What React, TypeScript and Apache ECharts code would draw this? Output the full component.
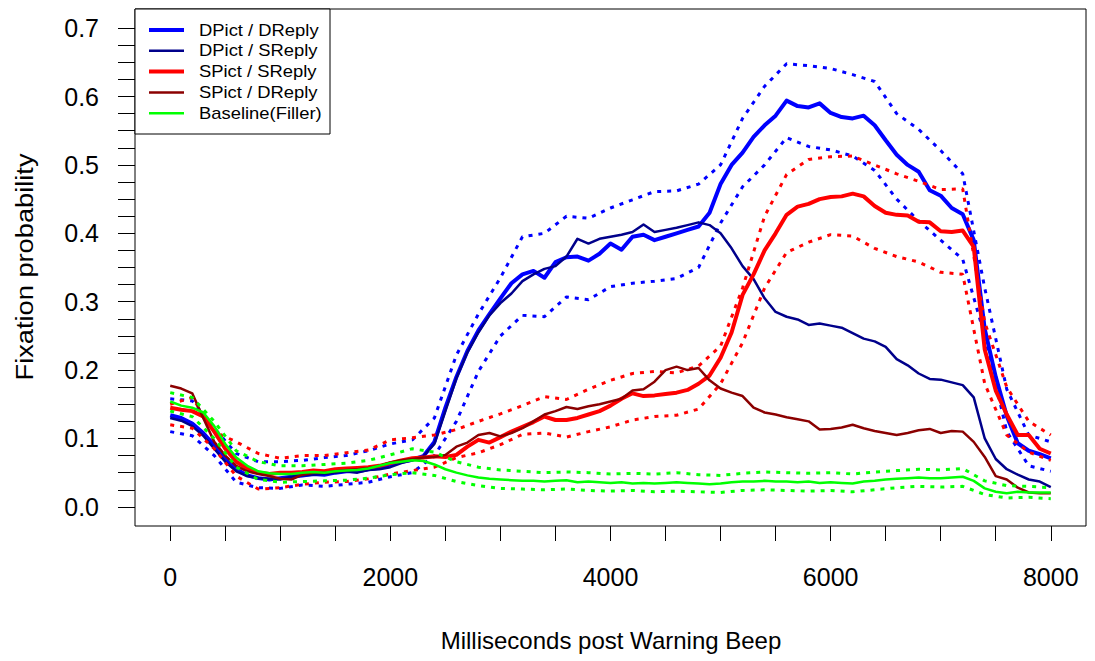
import React, { useEffect, useRef } from "react";
import * as echarts from "echarts";

const FONT = '"Liberation Sans", Arial, Helvetica, sans-serif';

// time stamps (ms)
const tMain = Array.from({ length: 81 }, (_, i) => i * 100);
const tCI = Array.from({ length: 41 }, (_, i) => i * 200);

const seriesNames = ["DPict / DReply", "DPict / SReply", "SPict / SReply", "SPict / DReply", "Baseline(Filler)"];
const xTickValues = [0, 500, 1000, 1500, 2000, 2500, 3000, 3500, 4000, 4500, 5000, 5500, 6000, 6500, 7000, 7500, 8000];
const xLabelValues = [0, 2000, 4000, 6000, 8000];
const yTickValues = [0, 0.025, 0.05, 0.075, 0.1, 0.125, 0.15, 0.175, 0.2, 0.225, 0.25, 0.275, 0.3, 0.325, 0.35, 0.375, 0.4, 0.425, 0.45, 0.475, 0.5, 0.525, 0.55, 0.575, 0.6, 0.625, 0.65, 0.675, 0.7];
const yLabelValues = [0, 0.1, 0.2, 0.3, 0.4, 0.5, 0.6, 0.7];

// main lines, every 100 ms
const dPictDReply = [
  0.134, 0.130, 0.122, 0.108, 0.090, 0.070, 0.055, 0.046, 0.042, 0.040,
  0.042, 0.044, 0.046, 0.048, 0.047, 0.050, 0.052, 0.052, 0.055, 0.057,
  0.062, 0.066, 0.069, 0.074, 0.095, 0.145, 0.190, 0.228, 0.258, 0.282,
  0.305, 0.327, 0.340, 0.345, 0.335, 0.358, 0.365, 0.366, 0.360, 0.370,
  0.385, 0.376, 0.395, 0.398, 0.390, 0.395, 0.400, 0.405, 0.410, 0.430,
  0.472, 0.500, 0.518, 0.541, 0.558, 0.572, 0.594, 0.586, 0.584, 0.590,
  0.576, 0.570, 0.568, 0.572, 0.558, 0.536, 0.515, 0.500, 0.490, 0.463,
  0.455, 0.437, 0.428, 0.390, 0.260, 0.190, 0.133, 0.093, 0.082, 0.077,
  0.071,
];
const dPictSReply = [
  0.130, 0.126, 0.118, 0.104, 0.085, 0.066, 0.052, 0.045, 0.042, 0.041,
  0.040, 0.044, 0.046, 0.047, 0.048, 0.050, 0.052, 0.050, 0.054, 0.055,
  0.058, 0.064, 0.068, 0.074, 0.092, 0.140, 0.188, 0.226, 0.255, 0.280,
  0.298, 0.312, 0.330, 0.340, 0.348, 0.352, 0.366, 0.392, 0.385, 0.392,
  0.395, 0.398, 0.402, 0.413, 0.402, 0.405, 0.408, 0.412, 0.416, 0.412,
  0.400, 0.378, 0.352, 0.333, 0.305, 0.285, 0.278, 0.274, 0.266, 0.268,
  0.265, 0.262, 0.254, 0.246, 0.242, 0.234, 0.216, 0.207, 0.195, 0.187,
  0.186, 0.182, 0.178, 0.160, 0.100, 0.070, 0.055, 0.047, 0.040, 0.037,
  0.029,
];
const sPictSReply = [
  0.145, 0.142, 0.140, 0.132, 0.110, 0.085, 0.066, 0.056, 0.050, 0.048,
  0.050, 0.050, 0.051, 0.053, 0.052, 0.055, 0.056, 0.057, 0.058, 0.060,
  0.064, 0.068, 0.071, 0.072, 0.074, 0.073, 0.076, 0.088, 0.098, 0.094,
  0.102, 0.110, 0.117, 0.124, 0.132, 0.127, 0.127, 0.130, 0.135, 0.140,
  0.148, 0.158, 0.166, 0.162, 0.163, 0.165, 0.167, 0.171, 0.180, 0.192,
  0.218, 0.255, 0.310, 0.340, 0.375, 0.400, 0.427, 0.439, 0.443, 0.450,
  0.453, 0.454, 0.458, 0.454, 0.440, 0.430, 0.427, 0.426, 0.417, 0.416,
  0.403, 0.402, 0.404, 0.380, 0.230, 0.170, 0.135, 0.105, 0.105, 0.085,
  0.078,
];
const sPictDReply = [
  0.177, 0.173, 0.166, 0.130, 0.095, 0.075, 0.060, 0.052, 0.048, 0.045,
  0.041, 0.040, 0.047, 0.050, 0.050, 0.052, 0.054, 0.055, 0.057, 0.060,
  0.065, 0.068, 0.070, 0.072, 0.073, 0.076, 0.088, 0.094, 0.105, 0.108,
  0.103, 0.108, 0.115, 0.125, 0.135, 0.140, 0.146, 0.143, 0.147, 0.150,
  0.154, 0.158, 0.170, 0.172, 0.183, 0.200, 0.205, 0.200, 0.203, 0.185,
  0.173, 0.167, 0.162, 0.145, 0.138, 0.135, 0.131, 0.128, 0.125, 0.113,
  0.114, 0.116, 0.120, 0.115, 0.111, 0.108, 0.105, 0.108, 0.112, 0.114,
  0.108, 0.111, 0.110, 0.095, 0.073, 0.045, 0.040, 0.028, 0.021, 0.020,
  0.020,
];
const baseline = [
  0.154, 0.148, 0.145, 0.138, 0.118, 0.092, 0.072, 0.060, 0.052, 0.049,
  0.048, 0.048, 0.050, 0.051, 0.050, 0.052, 0.053, 0.054, 0.056, 0.060,
  0.064, 0.066, 0.068, 0.067, 0.062, 0.055, 0.050, 0.046, 0.043, 0.041,
  0.040, 0.039, 0.038, 0.038, 0.037, 0.038, 0.039, 0.036, 0.037, 0.036,
  0.035, 0.036, 0.034, 0.035, 0.034, 0.035, 0.036, 0.035, 0.034, 0.033,
  0.034, 0.036, 0.037, 0.037, 0.038, 0.037, 0.037, 0.036, 0.037, 0.035,
  0.036, 0.035, 0.034, 0.037, 0.038, 0.040, 0.041, 0.042, 0.043, 0.042,
  0.042, 0.043, 0.044, 0.038, 0.027, 0.022, 0.020, 0.022, 0.021, 0.021,
  0.021,
];

// confidence bands, every 200 ms
const dPictDReplyUpper = [
  0.158, 0.155, 0.115, 0.078, 0.066, 0.066, 0.068, 0.072, 0.075, 0.082,
  0.092, 0.098, 0.130, 0.222, 0.282, 0.335, 0.395, 0.400, 0.425, 0.422,
  0.437, 0.449, 0.461, 0.462, 0.472, 0.500, 0.568, 0.615, 0.648, 0.645,
  0.641, 0.632, 0.622, 0.575, 0.552, 0.521, 0.487, 0.320, 0.172, 0.105,
  0.095,
];
const dPictDReplyLower = [
  0.110, 0.104, 0.075, 0.036, 0.028, 0.027, 0.032, 0.030, 0.033, 0.036,
  0.044, 0.050, 0.075, 0.125, 0.198, 0.250, 0.280, 0.278, 0.307, 0.303,
  0.322, 0.327, 0.330, 0.334, 0.350, 0.415, 0.468, 0.500, 0.540, 0.527,
  0.522, 0.513, 0.492, 0.450, 0.418, 0.390, 0.362, 0.250, 0.110, 0.060,
  0.052,
];
const sPictSReplyUpper = [
  0.150, 0.160, 0.110, 0.095, 0.078, 0.071, 0.075, 0.075, 0.079, 0.083,
  0.098, 0.101, 0.105, 0.113, 0.125, 0.136, 0.148, 0.161, 0.157, 0.172,
  0.185, 0.195, 0.198, 0.196, 0.206, 0.235, 0.320, 0.425, 0.486, 0.508,
  0.512, 0.513, 0.500, 0.487, 0.476, 0.464, 0.465, 0.270, 0.175, 0.125,
  0.105,
];
const sPictSReplyLower = [
  0.120, 0.115, 0.085, 0.045, 0.026, 0.028, 0.033, 0.036, 0.037, 0.041,
  0.048, 0.053, 0.058, 0.072, 0.079, 0.091, 0.106, 0.108, 0.102, 0.110,
  0.117, 0.127, 0.132, 0.134, 0.143, 0.180, 0.240, 0.320, 0.372, 0.387,
  0.398, 0.396, 0.378, 0.366, 0.358, 0.343, 0.340, 0.180, 0.105, 0.080,
  0.068,
];
const baselineUpper = [
  0.167, 0.160, 0.125, 0.082, 0.066, 0.060, 0.060, 0.062, 0.064, 0.068,
  0.076, 0.085, 0.080, 0.066, 0.058, 0.054, 0.052, 0.050, 0.051, 0.050,
  0.048, 0.049, 0.048, 0.050, 0.047, 0.046, 0.049, 0.051, 0.050, 0.049,
  0.050, 0.048, 0.051, 0.053, 0.055, 0.054, 0.056, 0.038, 0.031, 0.030,
  0.028,
];
const baselineLower = [
  0.140, 0.132, 0.100, 0.058, 0.040, 0.036, 0.037, 0.038, 0.039, 0.042,
  0.047, 0.050, 0.046, 0.037, 0.031, 0.027, 0.026, 0.025, 0.026, 0.024,
  0.023, 0.024, 0.022, 0.023, 0.022, 0.021, 0.024, 0.025, 0.024, 0.023,
  0.024, 0.022, 0.025, 0.028, 0.030, 0.029, 0.030, 0.018, 0.013, 0.014,
  0.012,
];

const colors = ["#0000FF", "#00008B", "#FF0000", "#8B0000", "#00FF00"];
const widths = [4, 2.5, 4, 2.5, 2.5];

const pairs = (ts: number[], vs: number[]) => ts.map((t, i) => [t, vs[i]]);

export default function App() {
  const ref = useRef<HTMLDivElement>(null);
  useEffect(() => {
    if (!ref.current) return;
    const chart = echarts.init(ref.current, null, { renderer: "svg" });

    const dotted = (name: string, vs: number[], color: string) => ({
      name,
      type: "line",
      data: pairs(tCI, vs),
      showSymbol: false,
      symbol: "none",
      silent: true,
      lineStyle: { color, width: 3, type: [4, 6], cap: "butt" },
    });
    const solid = (idx: number, vs: number[]) => ({
      name: seriesNames[idx],
      type: "line",
      data: pairs(tMain, vs),
      showSymbol: false,
      symbol: "none",
      silent: true,
      lineStyle: { color: colors[idx], width: widths[idx], join: "round" },
    });

    const legendRowY = (i: number) => 30 + i * 20.8;
    const legendEls: any[] = [
      {
        type: "rect",
        shape: { x: 135, y: 9, width: 195, height: 125 },
        style: { fill: "#fff", stroke: "#000", lineWidth: 1 },
        z: 10,
      },
    ];
    seriesNames.forEach((n, i) => {
      legendEls.push({
        type: "line",
        shape: { x1: 149, y1: legendRowY(i), x2: 184, y2: legendRowY(i) },
        style: { stroke: colors[i], lineWidth: widths[i] },
        z: 11,
      });
      legendEls.push({
        type: "text",
        x: 199,
        y: legendRowY(i),
        scaleX: 1.15,
        style: { text: n, fontSize: 16, fontFamily: FONT, fill: "#000", align: "left", verticalAlign: "middle" },
        z: 11,
      });
    });

    const tickLabel = {
      fontSize: 25,
      fontFamily: FONT,
      color: "#000",
    };

    chart.setOption({
      animation: false,
      backgroundColor: "#fff",
      grid: {
        left: 135,
        top: 9,
        width: 951,
        height: 517,
        show: true,
        borderColor: "#000",
        borderWidth: 1,
        backgroundColor: "transparent",
        containLabel: false,
      },
      xAxis: {
        type: "value",
        min: -320,
        max: 8320,
        axisLine: { show: false, onZero: false },
        splitLine: { show: false },
        axisTick: { show: true, inside: false, length: 15, customValues: xTickValues, lineStyle: { color: "#000", width: 1 } },
        axisLabel: {
          ...tickLabel,
          customValues: xLabelValues,
          margin: 38,
          formatter: (v: number) => String(v),
        },
      },
      yAxis: {
        type: "value",
        min: -0.028,
        max: 0.728,
        axisLine: { show: false, onZero: false },
        splitLine: { show: false },
        axisTick: { show: true, inside: false, length: 17, customValues: yTickValues, lineStyle: { color: "#000", width: 1 } },
        axisLabel: {
          ...tickLabel,
          customValues: yLabelValues,
          margin: 36,
          formatter: (v: number) => v.toFixed(1),
        },
      },
      graphic: [
        {
          type: "text",
          x: 25,
          y: 267,
          rotation: Math.PI / 2,
          scaleX: 1.135,
          style: { text: "Fixation probability", fontSize: 24, fontFamily: FONT, fill: "#000", align: "center", verticalAlign: "middle" },
        },
        {
          type: "text",
          x: 611,
          y: 640,
          style: { text: "Milliseconds post Warning Beep", fontSize: 24, fontFamily: FONT, fill: "#000", align: "center", verticalAlign: "middle" },
        },
        ...legendEls,
      ],
      series: [
        dotted("DPict / DReply upper", dPictDReplyUpper, colors[0]),
        dotted("DPict / DReply lower", dPictDReplyLower, colors[0]),
        solid(0, dPictDReply),
        solid(1, dPictSReply),
        dotted("SPict / SReply upper", sPictSReplyUpper, colors[2]),
        dotted("SPict / SReply lower", sPictSReplyLower, colors[2]),
        solid(2, sPictSReply),
        solid(3, sPictDReply),
        dotted("Baseline upper", baselineUpper, colors[4]),
        dotted("Baseline lower", baselineLower, colors[4]),
        solid(4, baseline),
      ],
    });
    return () => chart.dispose();
  }, []);
  return <div ref={ref} style={{ position: "fixed", left: 0, top: 0, width: 1095, height: 661, background: "#fff" }} />;
}
